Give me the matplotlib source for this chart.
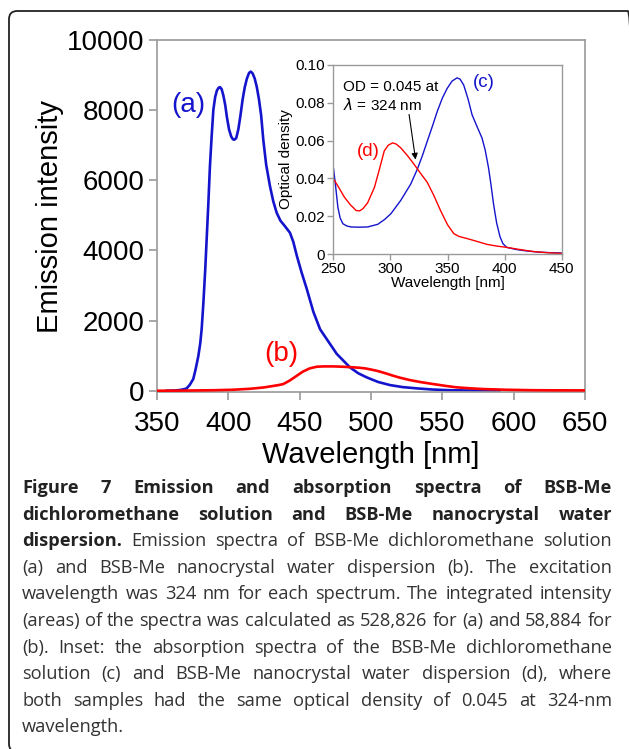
import matplotlib
matplotlib.use("Agg")
import matplotlib.pyplot as plt
from matplotlib.patches import FancyBboxPatch

# ---------------- data ----------------
# main plot: emission spectra
wl_a = [357, 362, 366, 369, 370.8, 373, 375.4, 377, 379, 380.3, 381.3, 382.5, 383.8, 384.8,
        386, 387.1, 388.3, 389.5, 390.8, 392, 393.2, 394.2, 395.3, 396.5, 397.8, 399, 400.5,
        402, 403.2, 404.2, 405.5, 407, 408.5, 410, 411.5, 413, 414.5, 415.7, 417, 418.5,
        420, 421.5, 423, 424.5, 426.5, 429.2, 431.5, 433.9, 436.5, 439.5, 443.2, 445.5,
        448, 451.4, 455, 459.6, 464.3, 469, 476, 485.3, 491, 497, 505, 513.3, 522, 532,
        543, 555, 570, 590]
em_a = [0, 5, 20, 45, 68, 170, 333, 600, 995, 1350, 1754, 2500, 3450, 4313,
        5350, 6400, 7250, 8010, 8380, 8560, 8640, 8655, 8600, 8420, 8150, 7800, 7450,
        7250, 7170, 7157, 7200, 7450, 7850, 8300, 8650, 8900, 9060, 9099, 9050, 8900,
        8650, 8300, 7850, 7157, 6450, 5829, 5400, 5072, 4850, 4700, 4504, 4250,
        3850, 3366, 2900, 2250, 1754, 1470, 1050, 665, 500, 381, 250, 162, 105, 68,
        35, 15, 6, 2]

wl_b = [350, 370, 390, 403, 415, 425, 431, 435, 438.5, 443, 448, 452, 457, 462, 466.6,
        473.6, 480, 487.6, 492, 496, 500, 505, 510, 515, 520, 527.3, 535, 543.7, 552,
        560, 570, 578.7, 595, 614, 630, 650]
em_b = [0, 5, 15, 28, 55, 95, 134, 160, 190, 290, 427, 540, 637, 685, 694,
        694, 685, 668, 655, 637, 605, 560, 500, 435, 375, 304, 245, 190, 140,
        97, 68, 48, 28, 15, 12, 10]

# inset: absorption spectra
wl_c = [250.3, 252, 254, 256, 258.4, 262, 265.7, 272, 280, 288.9, 295, 300.4, 309, 317.8,
        323.6, 328, 332.3, 337, 341, 345.5, 349.7, 354, 358.4, 361, 364.2, 368, 371.5,
        376, 380.2, 383, 385.9, 388, 390.3, 393, 396, 398.5, 401.9, 410, 418, 430, 440, 450]
od_c = [0.0449, 0.036, 0.0248, 0.019, 0.016, 0.0148, 0.0143, 0.0142, 0.0143, 0.0157, 0.0183,
        0.0213, 0.0283, 0.037, 0.0449, 0.052, 0.0597, 0.068, 0.0754, 0.0825, 0.0876, 0.0915,
        0.0932, 0.0925, 0.0894, 0.082, 0.0737, 0.0672, 0.0614, 0.055, 0.0457, 0.037, 0.0265,
        0.0165, 0.0091, 0.0055, 0.0035, 0.0024, 0.0017, 0.001, 0.0007, 0.0005]

wl_d = [250.3, 255, 259.8, 265, 270, 273, 275.8, 280, 286, 290, 294.6, 298, 301.9, 305,
        309, 315, 320.7, 326, 332.3, 338, 343.9, 350, 355.5, 360, 367, 375, 384.5, 393,
        402, 412, 425, 437, 450]
od_d = [0.0396, 0.035, 0.030, 0.026, 0.023, 0.0228, 0.0239, 0.027, 0.0352, 0.044, 0.0545,
        0.0575, 0.0588, 0.0582, 0.0562, 0.052, 0.0475, 0.043, 0.0379, 0.031, 0.023, 0.0155,
        0.0108, 0.0093, 0.0082, 0.0068, 0.0051, 0.0042, 0.0035, 0.0025, 0.0013, 0.0007, 0.0003]

main_xticks = [350, 400, 450, 500, 550, 600, 650]
main_yticks = [0, 2000, 4000, 6000, 8000, 10000]
inset_xticks = [250, 300, 350, 400, 450]
inset_yticks = [0, 0.02, 0.04, 0.06, 0.08, 0.10]
inset_yticklabels = ["0", "0.02", "0.04", "0.06", "0.08", "0.10"]

caption_lines = [
    [("Figure 7 Emission and absorption spectra of BSB-Me", True)],
    [("dichloromethane solution and BSB-Me nanocrystal water", True)],
    [("dispersion.", True), ("Emission spectra of BSB-Me dichloromethane solution", False)],
    [("(a) and BSB-Me nanocrystal water dispersion (b). The excitation", False)],
    [("wavelength was 324 nm for each spectrum. The integrated intensity", False)],
    [("(areas) of the spectra was calculated as 528,826 for (a) and 58,884 for", False)],
    [("(b). Inset: the absorption spectra of the BSB-Me dichloromethane", False)],
    [("solution (c) and BSB-Me nanocrystal water dispersion (d), where", False)],
    [("both samples had the same optical density of 0.045 at 324-nm", False)],
    [("wavelength.", False)],
]

# ---------------- figure ----------------
W, H = 629, 749
fig = plt.figure(figsize=(W / 100, H / 100), dpi=100)
fig.patch.set_facecolor("white")

def fx(px):
    return px / W

def fy(py):
    return 1 - py / H

plt.rcParams["font.family"] = ["Liberation Sans", "DejaVu Sans"]
GRAY = "#9a9a9a"
BLUE = "#1414cc"
RED = "#ff0000"

# outer rounded box
box = FancyBboxPatch((fx(9), fy(752)), fx(636) - fx(9), fy(11) - fy(752),
                     boxstyle="round,pad=0,rounding_size=0.013",
                     transform=fig.transFigure, fill=False, edgecolor="#222222",
                     linewidth=1.3, mutation_aspect=W / H)
fig.patches.append(box)

# main axes
ax = fig.add_axes([fx(157), fy(392.5), fx(585) - fx(157), fy(40) - fy(392.5)])
ax.plot(wl_b, em_b, color=RED, lw=1.9, zorder=3)
ax.plot(wl_a, em_a, color=BLUE, lw=1.9, zorder=2)
ax.set_xlim(350, 650)
ax.set_ylim(-50, 10000)
ax.set_xticks(main_xticks)
ax.set_yticks(main_yticks)
ax.tick_params(axis="both", direction="out", length=6, width=1.2, color=GRAY,
               labelsize=20, pad=3)
ax.tick_params(axis="x", pad=7)
for sp in ax.spines.values():
    sp.set_color(GRAY)
    sp.set_linewidth(1.2)
ax.set_xlabel("Wavelength [nm]", fontsize=21, labelpad=3)
ax.set_ylabel("Emission intensity", fontsize=21, labelpad=2)
ax.text(371.7, 8150, "(a)", color=BLUE, fontsize=20, ha="center", va="center")
ax.text(437.3, 1043, "(b)", color=RED, fontsize=20, ha="center", va="center")

# inset axes
ins = fig.add_axes([fx(333.3), fy(254), fx(561.7) - fx(333.3), fy(65) - fy(254)])
ins.plot(wl_c, od_c, color=BLUE, lw=1.0)
ins.plot(wl_d, od_d, color=RED, lw=1.0)
ins.set_xlim(250, 450)
ins.set_ylim(0, 0.10)
ins.set_xticks(inset_xticks)
ins.set_yticks(inset_yticks)
ins.set_yticklabels(inset_yticklabels)
ins.tick_params(axis="both", direction="out", length=4, width=1.0, color=GRAY,
                labelsize=11, pad=2)
for sp in ins.spines.values():
    sp.set_color(GRAY)
    sp.set_linewidth(1.0)
ins.set_xlabel("Wavelength [nm]", fontsize=11, labelpad=0)
ins.set_ylabel("Optical density", fontsize=11, labelpad=2)
ins.text(382, 0.0905, "(c)", color=BLUE, fontsize=13.5, ha="center", va="center")
ins.text(280.8, 0.054, "(d)", color=RED, fontsize=13.5, ha="center", va="center")
ins.text(258.5, 0.0886, "OD = 0.045 at", fontsize=11, ha="left", va="center")
ins.text(258.5, 0.0788, r"$\lambda$ = 324 nm", fontsize=11, ha="left", va="center")
ins.annotate("", xy=(322.4, 0.0485), xytext=(316, 0.0753),
             arrowprops=dict(arrowstyle="-|>", color="black", lw=0.8,
                             mutation_scale=9))

# caption with justified lines
renderer = fig.canvas.get_renderer()
cap_family = ["Open Sans", "DejaVu Sans"]
x_left, x_right = 22, 612
y0, dy = 488, 26.6

def measure(word, bold, size):
    t = fig.text(0, 0, word, fontsize=size, family=cap_family,
                 fontweight="bold" if bold else "normal")
    w = t.get_window_extent(renderer).width
    t.remove()
    return w

def split_words(line):
    out = []
    for seg, bold in line:
        for wd in seg.split(" "):
            out.append((wd, bold))
    return out

# choose the font size so the widest line just fits with normal spacing
base = 12.0
sp_base = measure("a b", False, base) - measure("ab", False, base)
ratios = []
for line in caption_lines[:-1]:
    words = split_words(line)
    nat = sum(measure(wd, b, base) for wd, b in words) + sp_base * (len(words) - 1)
    ratios.append((x_right - x_left) / nat)
cap_size = base * min(ratios) * 0.995

space_w = measure("a b", False, cap_size) - measure("ab", False, cap_size)
for i, line in enumerate(caption_lines):
    words = split_words(line)
    widths = [measure(wd, b, cap_size) for wd, b in words]
    last = (i == len(caption_lines) - 1)
    if last or len(words) == 1:
        gap = space_w
    else:
        gap = (x_right - x_left - sum(widths)) / (len(words) - 1)
    x = x_left
    y = y0 + i * dy
    for (wd, b), w in zip(words, widths):
        fig.text(fx(x), fy(y), wd, fontsize=cap_size, family=cap_family,
                 fontweight="bold" if b else "normal", color="#222222" if b else "#333333",
                 ha="left", va="center")
        x += w + gap

fig.savefig("out.png", dpi=100, facecolor="white")
